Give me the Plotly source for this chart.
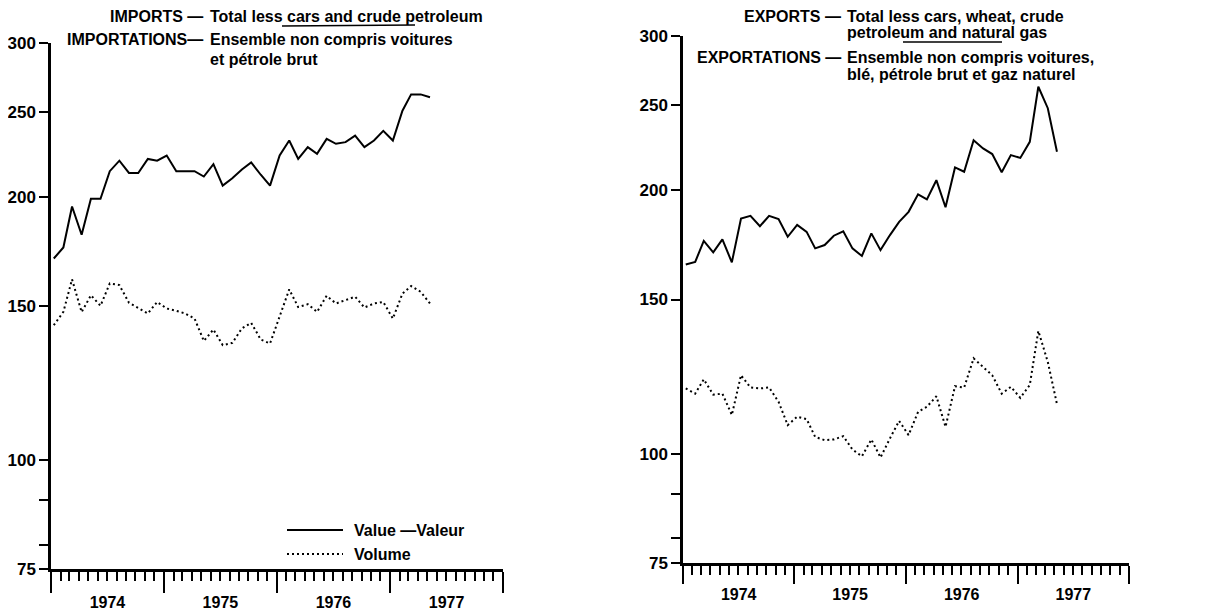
import plotly.graph_objects as go
import pandas as pd

months = ["1974-01","1974-02","1974-03","1974-04","1974-05","1974-06","1974-07","1974-08","1974-09","1974-10","1974-11","1974-12",
          "1975-01","1975-02","1975-03","1975-04","1975-05","1975-06","1975-07","1975-08","1975-09","1975-10","1975-11","1975-12",
          "1976-01","1976-02","1976-03","1976-04","1976-05","1976-06","1976-07","1976-08","1976-09","1976-10","1976-11","1976-12",
          "1977-01","1977-02","1977-03","1977-04","1977-05"]

imports_value = [170, 175, 195, 181, 199, 199, 214, 220, 213, 213, 221, 220,
                 223, 214, 214, 214, 211, 218, 206, 210, 215, 219, 212, 206,
                 223, 232, 221, 228, 224, 233, 230, 231, 235, 228, 232, 238,
                 232, 251, 262, 262, 260]
imports_volume = [142.6, 147.7, 160.9, 147.6, 154.3, 150.1, 159.2, 158.5, 151.3, 149.3, 147.1, 151.6,
                  149.0, 148.1, 147.1, 145.1, 136.8, 141.0, 135.3, 136.1, 141.4, 143.5, 137.3, 135.9,
                  145.8, 156.7, 149.6, 150.7, 147.7, 154.1, 151.0, 152.3, 153.7, 149.4, 151.0, 151.6,
                  145.1, 155.0, 158.1, 155.7, 151.0]
exports_value = [164.5, 165.6, 175.0, 169.8, 175.7, 165.4, 185.6, 186.9, 181.9, 186.9, 185.3, 176.9,
                 182.5, 179.2, 171.6, 173.1, 177.4, 179.5, 171.6, 168.2, 178.5, 170.8, 177.7, 184.0,
                 188.9, 197.8, 195.2, 205.3, 191.2, 212.3, 209.9, 228.1, 223.2, 219.9, 209.6, 219.3,
                 217.7, 227.1, 262.5, 248.1, 221.3]
exports_volume = [118.7, 117.1, 121.6, 116.8, 117.1, 110.7, 122.9, 119.0, 118.7, 119.0, 114.6, 107.8,
                  110.2, 109.5, 104.5, 103.6, 103.8, 104.7, 101.1, 99.3, 103.8, 99.0, 104.1, 109.0,
                  105.0, 111.6, 113.1, 116.3, 107.3, 119.4, 119.0, 128.5, 125.6, 122.9, 117.1, 119.2,
                  115.8, 119.8, 138.1, 127.3, 113.9]

y_tickvals = [75, 80, 90, 100, 150, 200, 250, 300]
y_ticktext = ["75", "", "", "100", "150", "200", "250", "300"]

# page has an 8px body margin, so the figure is drawn 8px in from the top-left corner
OFF = 8
W, H = 1214 - OFF, 613 - OFF
FONT = "Liberation Sans"

x_dates = pd.to_datetime([m + "-10" for m in months])

fig = go.Figure()
fig.add_trace(go.Scatter(x=x_dates, y=imports_value, mode="lines", xaxis="x", yaxis="y",
                         line=dict(color="black", width=2), showlegend=False))
fig.add_trace(go.Scatter(x=x_dates, y=imports_volume, mode="lines", xaxis="x", yaxis="y",
                         line=dict(color="black", width=2, dash="2px,3px"), showlegend=False))
fig.add_trace(go.Scatter(x=x_dates, y=exports_value, mode="lines", xaxis="x2", yaxis="y2",
                         line=dict(color="black", width=2), showlegend=False))
fig.add_trace(go.Scatter(x=x_dates, y=exports_volume, mode="lines", xaxis="x2", yaxis="y2",
                         line=dict(color="black", width=2, dash="2px,3px"), showlegend=False))


def px(x):
    return (x - OFF) / W


def py(y):
    return 1 - (y - OFF) / H


def xaxis(dom, anchor, ticklen, standoff):
    return dict(
        domain=dom, anchor=anchor, type="date",
        range=["1974-01-01", "1978-01-01"],
        tickmode="linear", tick0="1974-01-01", dtick="M12",
        ticklabelmode="period", tickformat="%Y", ticklabelstandoff=standoff,
        ticks="outside", ticklen=ticklen, tickwidth=2, tickcolor="black",
        showline=True, linewidth=2.5, linecolor="black",
        showgrid=False, zeroline=False, fixedrange=True, automargin=False,
        tickfont=dict(family=FONT, size=16, color="black", weight="bold"),
        minor=dict(dtick="M1", tick0="1974-01-01", ticks="outside", ticklen=9,
                   tickwidth=1.5, tickcolor="black", showgrid=False),
    )


def yaxis(dom, anchor):
    return dict(
        domain=dom, anchor=anchor, type="log",
        range=[1.8750613, 2.4771213],
        tickmode="array", tickvals=y_tickvals,
        ticktext=[f"<b>{t}</b>" if t else "" for t in y_ticktext],
        ticks="outside", ticklen=9, tickwidth=2, tickcolor="black",
        showline=True, linewidth=2.5, linecolor="black",
        showgrid=False, zeroline=False, fixedrange=True, automargin=False,
        tickfont=dict(family=FONT, size=17, color="black", weight="bold"),
    )


fig.update_layout(
    width=W, height=H,
    margin=dict(l=0, r=0, t=0, b=0),
    paper_bgcolor="white", plot_bgcolor="white",
    font=dict(family=FONT, color="black"),
    showlegend=False,
    xaxis=xaxis([px(51), px(503)], "y", 21, -4),
    yaxis=yaxis([py(569), py(43)], "x"),
    xaxis2=xaxis([px(683), px(1129)], "y2", 18, -3),
    yaxis2=yaxis([py(563), py(36)], "x2"),
)

anns = [
    # left panel title
    (205, 17, "IMPORTS —", "right"),
    (208, 17, "Total less cars and crude petroleum", "left"),
    (205, 39, "IMPORTATIONS—", "right"),
    (208, 39, "Ensemble non compris voitures", "left"),
    (208, 60, "et pétrole brut", "left"),
    # right panel title
    (843, 17, "EXPORTS —", "right"),
    (845, 17, "Total less cars, wheat, crude", "left"),
    (845, 33, "petroleum and natural gas", "left"),
    (843, 57, "EXPORTATIONS —", "right"),
    (845, 57, "Ensemble non compris voitures,", "left"),
    (845, 74, "blé, pétrole brut et gaz naturel", "left"),
    # legend text
    (352, 530, "Value —Valeur", "left"),
    (352, 554, "Volume", "left"),
]
for x, y, t, anc in anns:
    fig.add_annotation(x=px(x), y=py(y), xref="paper", yref="paper", text=t,
                       showarrow=False, xanchor=anc, yanchor="middle",
                       font=dict(family=FONT, size=16, color="black", weight="bold"))

# legend keys
fig.add_shape(type="line", xref="paper", yref="paper", x0=px(287), x1=px(343), y0=py(530), y1=py(530),
              line=dict(color="black", width=2))
fig.add_shape(type="line", xref="paper", yref="paper", x0=px(287), x1=px(343), y0=py(554), y1=py(554),
              line=dict(color="black", width=2, dash="2px,3px"))
# underline marks in titles
fig.add_shape(type="line", xref="paper", yref="paper", x0=px(282), x1=px(415), y0=py(26), y1=py(25),
              line=dict(color="black", width=1.5))
fig.add_shape(type="line", xref="paper", yref="paper", x0=px(903), x1=px(1002), y0=py(42), y1=py(42),
              line=dict(color="black", width=1.5))

fig.write_html("out.html")
